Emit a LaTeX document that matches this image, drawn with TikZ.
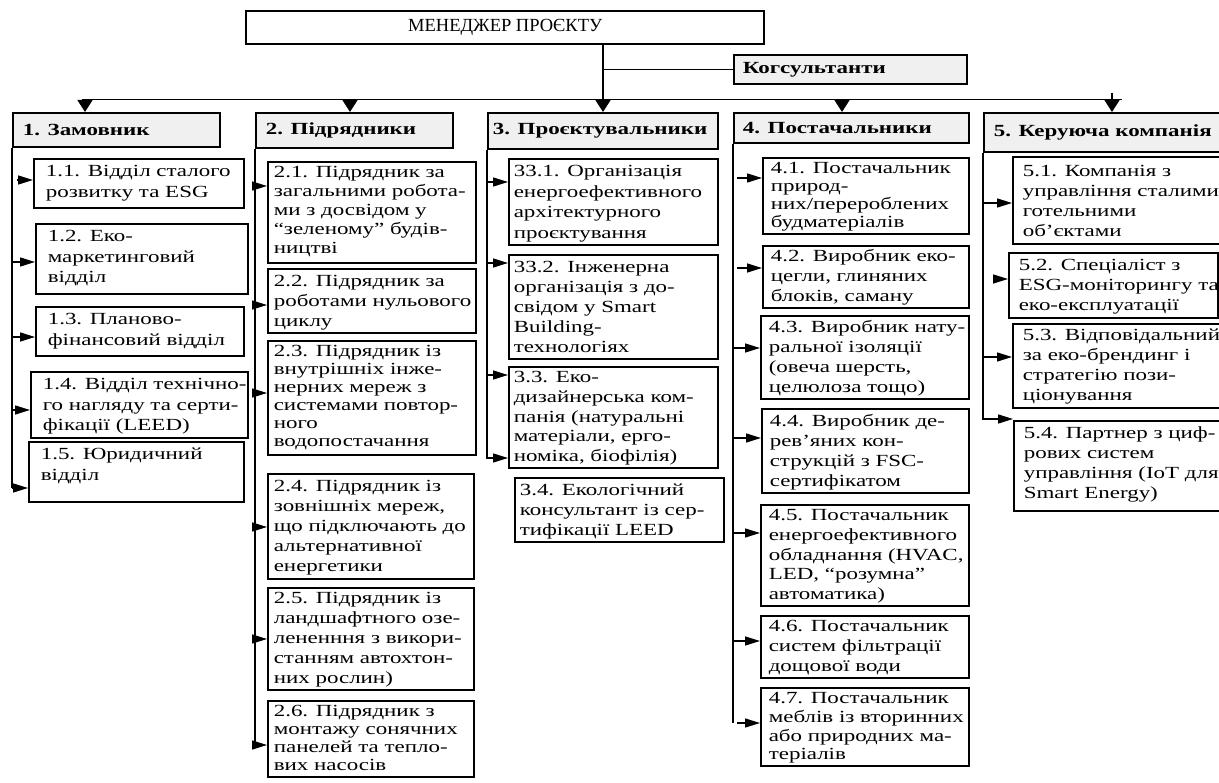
\documentclass[tikz,border=0pt]{standalone}
\usepackage{fontspec}
\setmainfont{Liberation Serif}
\newfontfamily\boxfam[FakeStretch=1.35]{Liberation Serif}
\usepackage{tikz}
\usetikzlibrary{arrows.meta}
\definecolor{hdrgray}{RGB}{240,240,240}
\newcommand{\hdrfont}{\boxfam\bfseries\fontsize{17}{20}\selectfont}
\newcommand{\titlefont}{\fontsize{18.5}{22}\selectfont}
% box text: width, height, left pad, first baseline, lines
\newcommand{\boxtext}[5]{\parbox[c][#2pt][t]{#1pt}{\vspace*{\dimexpr#4pt-.7\baselineskip\relax}\noindent\kern#3pt\begin{tabular}[t]{@{}l@{}}#5\end{tabular}}}

\begin{document}
\begin{tikzpicture}[x=1pt,y=-1pt,
  link/.style={line width=1.5pt},
  sarr/.style={link,-{Triangle[length=15pt,width=9pt]}},
  darr/.style={link,-{Triangle[length=12pt,width=15pt]}},
  frame/.style={draw,line width=1.6pt,anchor=north west,inner sep=0pt},
  subbox/.style={frame,font={\boxfam\fontsize{17}{#1}\selectfont}},
  hdr/.style={frame,fill=hdrgray,font=\hdrfont}]
  \useasboundingbox (0,0) rectangle (1219,783);

  % manager and consultants
  \node[frame,line width=2.4pt,font=\titlefont] (pm) at (245,10)
    {\parbox[c][33pt][c]{518pt}{\centering МЕНЕДЖЕР ПРОЄКТУ}};
  \node[hdr] (cons) at (733,54) {\parbox[c][29pt][c]{233pt}{\noindent\kern9pt Когсультанти}};
  \coordinate (j) at (603,99.5);
  \draw[link] (pm.south -| j) -- (j);
  \draw[link] (cons.west -| j) -- (cons.west);
  \coordinate (busl) at (82,99.5);
  \coordinate (busr) at (1122,99.5);
  \draw[link] (busl) -- (busr);

  % five groups
  \foreach \i/\x/\w/\h/\pd/\txt in {
    1/12/207/34/10/{1. Замовник},
    2/255/197/35/10/{2. Підрядники},
    3/487/230/36/5/{3. Проєктувальники},
    4/733/235/30/9/{4. Постачальники},
    5/983/245/39/10/{5. Керуюча компанія}}{
    \node[hdr] (h\i) at (\x,112) {\parbox[c][\h pt][c]{\w pt}{\noindent\kern\pd pt\txt}};
  }
  \foreach \i/\x/\y in {1/85/99.5, 2/350/99.5, 3/603/99.5, 4/842/99.5, 5/1112/93}{
    \coordinate (d\i) at (\x,\y);
    \draw[darr] (d\i) -- (d\i |- h\i.north);
  }

  % 1. client
  \foreach \nm/\ax/\x/\y/\w/\h/\ay/\tg/\ls/\txt in {
    11/17/33/158/210/49/180/18/20.5/{1.1. Відділ сталого\\розвитку та ESG},
    12/12/35/223/212/70/262/18/20.5/{1.2. Еко-\\маркетинговий\\відділ},
    13/12/35/306/208/49/337/18/20.5/{1.3. Планово-\\фінансовий відділ},
    14/12/30/371/217/66/410/18/20.5/{1.4. Відділ технічно-\\го нагляду та серти-\\фікації (LEED)},
    15/12/28/441/215/60/488/18/20.5/{1.5. Юридичний\\відділ}}{
    \node[subbox=\ls] (n\nm) at (\x,\y) {\boxtext{\w}{\h}{12}{\tg}{\txt}};
    \coordinate (a\nm) at (\ax,\ay);
    \draw[sarr] (a\nm) -- (a\nm -| n\nm.west);
  }
  \draw[link] (h1.south west) -- (a15);

  % 2. contractors
  \foreach \nm/\x/\y/\w/\h/\ay/\tg/\ls/\txt in {
    21/267/161/208/101/186/16/19/{2.1. Підрядник за\\загальними робота-\\ми з досвідом у\\“зеленому” будів-\\ництві},
    22/267/268/208/64/305/18/20/{2.2. Підрядник за\\роботами нульового\\циклу},
    23/267/340/208/114/393/16/18/{2.3. Підрядник із\\внутрішніх інже-\\нерних мереж з\\системами повтор-\\ного\\водопостачання},
    24/267/473/206/105/527/18/20/{2.4. Підрядник із\\зовнішніх мереж,\\що підключають до\\альтернативної\\енергетики},
    25/267/587/206/102/639/16/20/{2.5. Підрядник із\\ландшафтного озе-\\лененння з викори-\\станням автохтон-\\них рослин)},
    26/267/700/206/76/745/16/18/{2.6. Підрядник з\\монтажу сонячних\\панелей та тепло-\\вих насосів}}{
    \node[subbox=\ls] (n\nm) at (\x,\y) {\boxtext{\w}{\h}{6}{\tg}{\txt}};
    \coordinate (a\nm) at (255,\ay);
    \draw[sarr] (a\nm) -- (a\nm -| n\nm.west);
  }
  \draw[link] (h2.south west) -- (a26);

  % 3. designers
  \foreach \nm/\y/\h/\ay/\tg/\ls/\txt in {
    31/158/86/182/18/20.5/{33.1. Організація\\енергоефективного\\архітектурного\\проєктування},
    32/254/104/263/18/20/{33.2. Інженерна\\організація з до-\\свідом у Smart\\Building-\\технологіях},
    33/366/101/375/16/19.7/{3.3. Еко-\\дизайнерська ком-\\панія (натуральні\\матеріали, ерго-\\номіка, біофілія)}}{
    \node[subbox=\ls] (n\nm) at (508,\y) {\boxtext{209}{\h}{5}{\tg}{\txt}};
    \coordinate (a\nm) at (487,\ay);
    \draw[sarr] (a\nm) -- (a\nm -| n\nm.west);
  }
  \node[subbox=20] (n34) at (514,477)
    {\boxtext{209}{64}{5}{18}{3.4. Екологічний\\консультант із сер-\\тифікації LEED}};
  \coordinate (e3) at (487,458);
  \draw[sarr] (h3.south west) -- (e3) -- (e3 -| n33.west);

  % 4. suppliers
  \foreach \nm/\ax/\x/\y/\w/\h/\ay/\tg/\ls/\txt in {
    41/737/762/157/206/76/178/16/18/{4.1. Постачальник\\природ-\\них/перероблених\\будматеріалів},
    42/737/762/245/206/62/268/16/20/{4.2. Виробник еко-\\цегли, глиняних\\блоків, саману},
    43/733/760/315/208/83/348/17/20/{4.3. Виробник нату-\\ральної ізоляції\\(овеча шерсть,\\целюлоза тощо)},
    44/733/761/408/207/84/438/18/20/{4.4. Виробник де-\\рев’яних кон-\\струкцій з FSC-\\сертифікатом},
    45/733/760/504/208/101/533/16/19.7/{4.5. Постачальник\\енергоефективного\\обладнання (HVAC,\\LED, “розумна”\\автоматика)},
    46/733/760/615/208/62/641/16/20/{4.6. Постачальник\\систем фільтрації\\дощової води},
    47/737/760/687/208/78/723/16/18.7/{4.7. Постачальник\\меблів із вторинних\\або природних ма-\\теріалів}}{
    \node[subbox=\ls] (n\nm) at (\x,\y) {\boxtext{\w}{\h}{8}{\tg}{\txt}};
    \coordinate (a\nm) at (\ax,\ay);
    \draw[sarr] (a\nm) -- (a\nm -| n\nm.west);
  }
  \draw[link] (h4.south west) -- (h4.south west |- a47);

  % 5. management company
  \foreach \nm/\ax/\x/\y/\w/\h/\ay/\tg/\txt in {
    51/983/1012/156/210/87/203/20/{5.1. Компанія з\\управління сталими\\готельними\\об’єктами},
    52/995/1008/252/209/65/279/18/{5.2. Спеціаліст з\\ESG-моніторингу та\\еко-експлуатації},
    53/983/1012/323/210/84/357/17/{5.3. Відповідальний\\за еко-брендинг і\\стратегію пози-\\ціонування}}{
    \node[subbox=20] (n\nm) at (\x,\y) {\boxtext{\w}{\h}{10}{\tg}{\txt}};
    \coordinate (a\nm) at (\ax,\ay);
    \draw[sarr] (a\nm) -- (a\nm -| n\nm.west);
  }
  \node[subbox=20] (n54) at (1013,420)
    {\boxtext{210}{90}{10}{18}{5.4. Партнер з циф-\\рових систем\\управління (IoT для\\Smart Energy)}};
  \coordinate (e5) at (983,419);
  \draw[sarr] (h5.south west) -- (e5) -- (e5 -| n54.west);
\end{tikzpicture}
\end{document}
